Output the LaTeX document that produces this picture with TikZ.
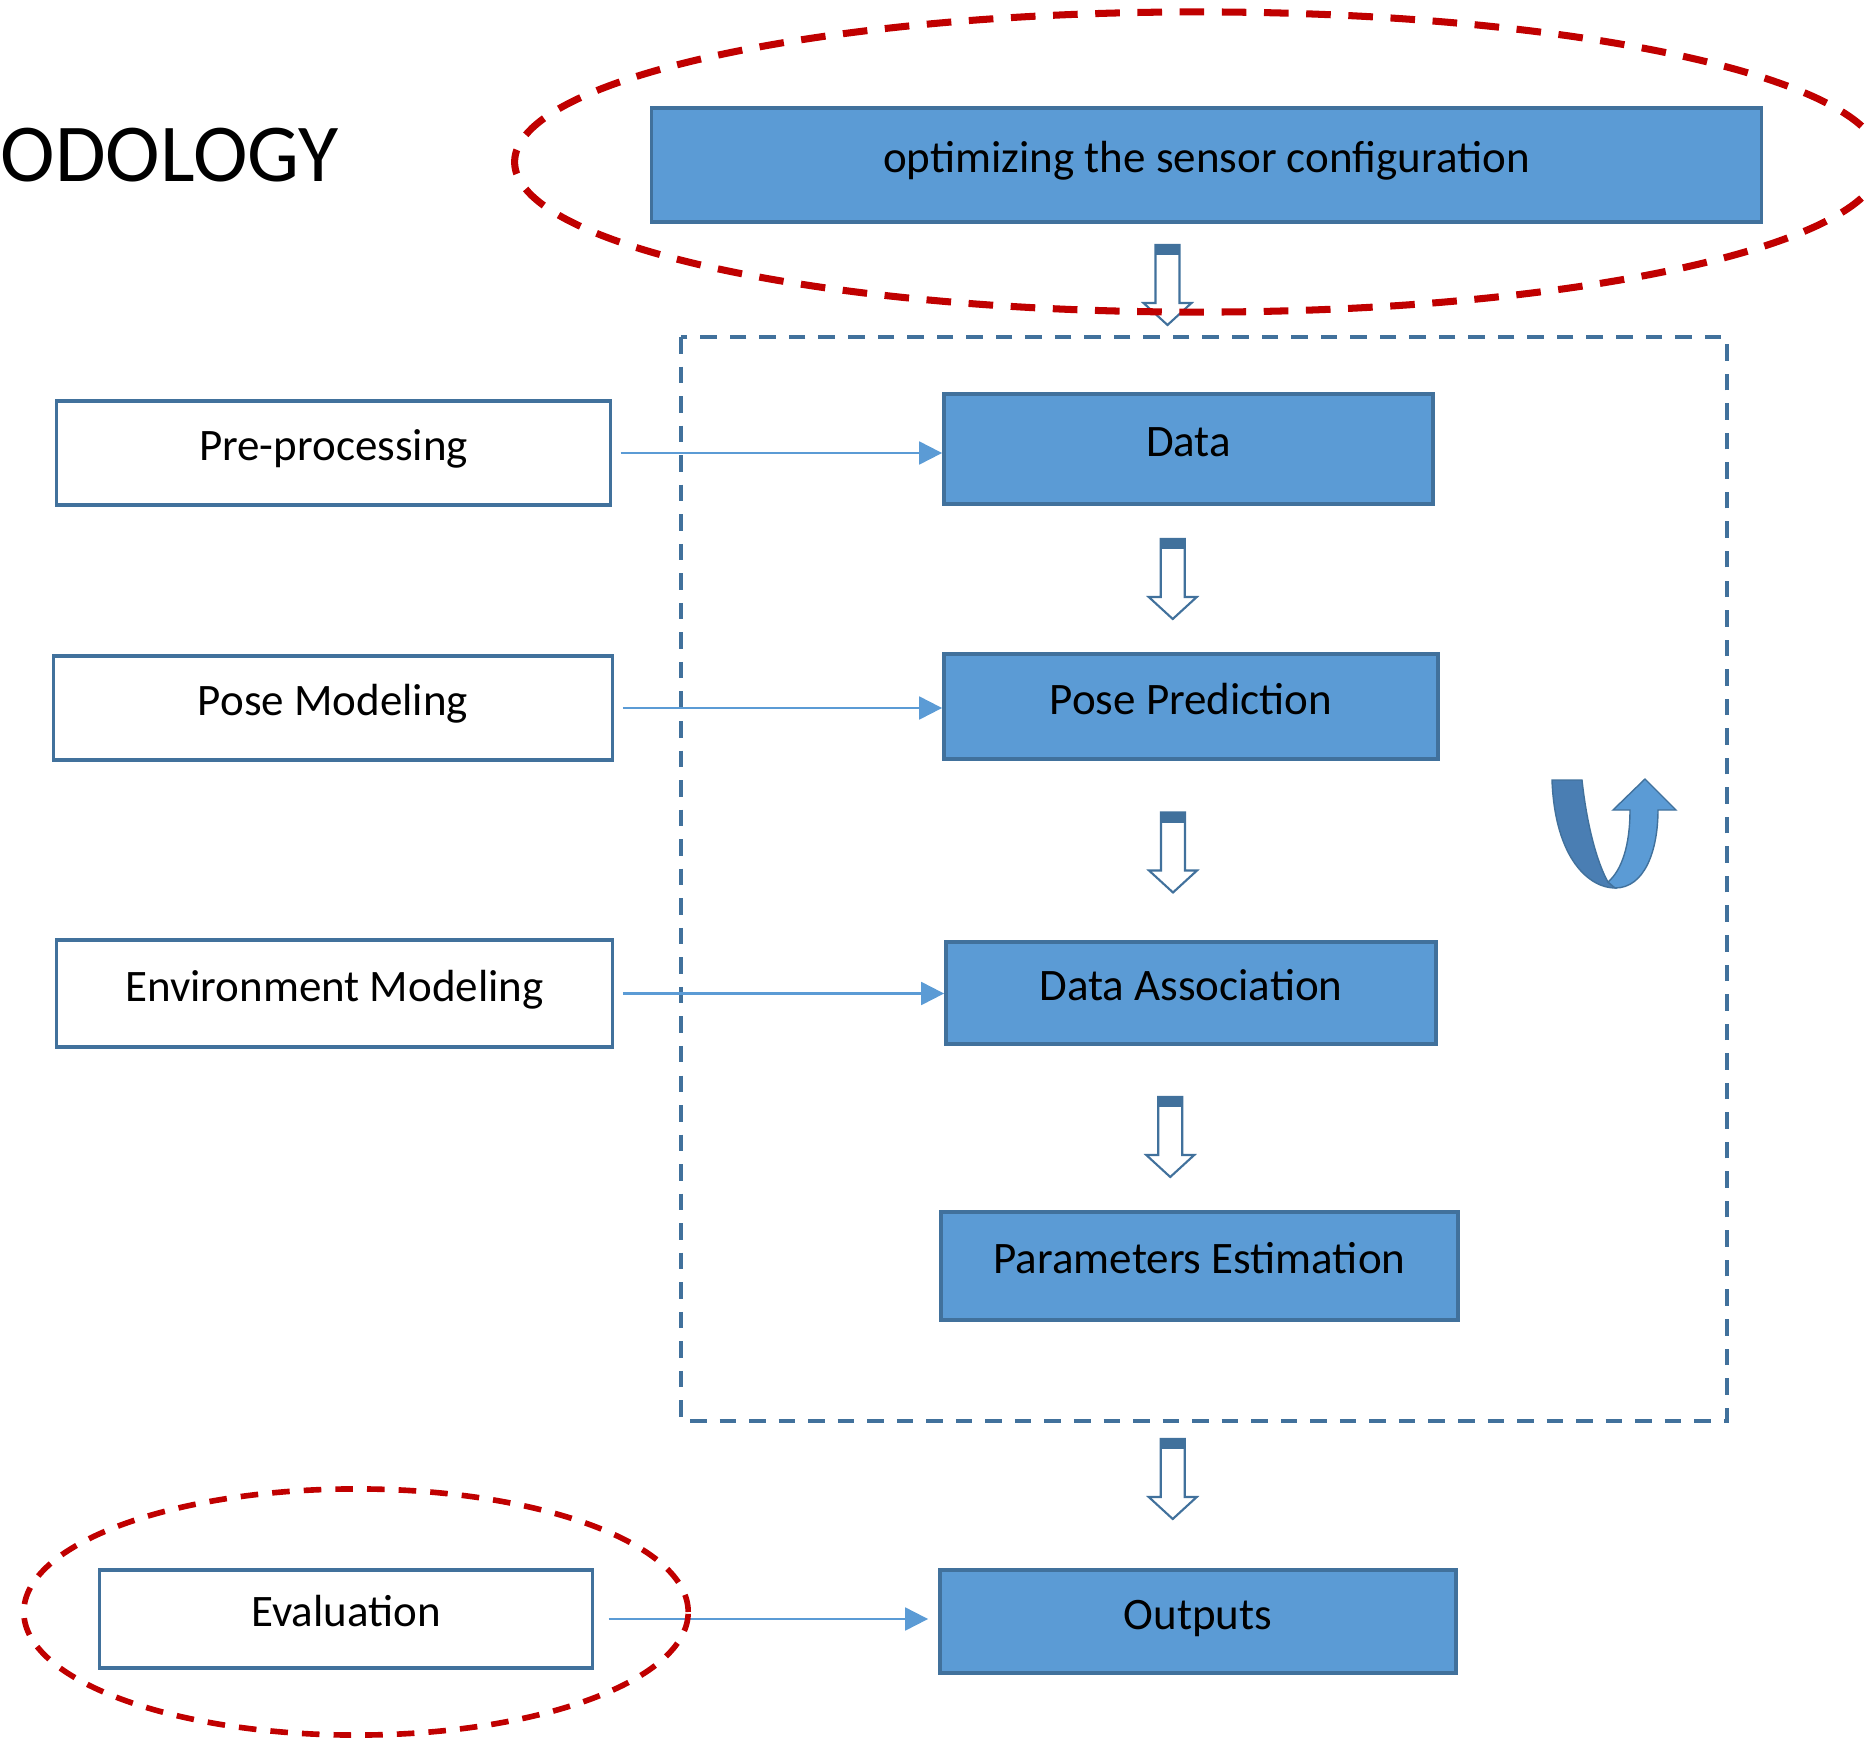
\documentclass[tikz,border=0pt]{standalone}
\usepackage{fontspec}
\setmainfont{Carlito}
\usetikzlibrary{calc,positioning,arrows.meta}
\definecolor{boxblue}{HTML}{5B9BD5}
\definecolor{edgeblue}{HTML}{41719C}
\definecolor{bendblue}{HTML}{4A7EB3}
\definecolor{ringred}{HTML}{C00000}
\tikzset{
stage/.style={draw=edgeblue, line width=1pt, fill=boxblue, inner sep=0pt, text height=0.66em, text depth=0.22em, font=\fontsize{12.8}{15}\selectfont}, % blue process boxes
model/.style={draw=edgeblue, line width=0.9pt, fill=white, inner sep=0pt, text height=0.66em, text depth=0.22em, font=\fontsize{12.8}{15}\selectfont}, % white input boxes
feed/.style={draw=boxblue, line width=0.6pt, -{Triangle[length=6.5pt,width=6.5pt]}, shorten <=0.09cm},
ring/.style={draw=ringred, line width=2pt, dash pattern=on 7pt off 5pt},
loopbox/.style={draw=edgeblue, line width=1.1pt, dash pattern=on 4.7pt off 3.7pt},
hollowarrow/.pic={
  \draw[edgeblue, line width=0.6pt, fill=white] (-12,-40) -- (12,-40) -- (12,18) -- (24,18) -- (0,40) -- (-24,18) -- (-12,18) -- cycle;
  \fill[edgeblue] (-12,-40) rectangle (12,-30);
}
}
\begin{document}
\begin{tikzpicture}[x=0.01cm, y=-0.01cm]
\useasboundingbox (0,0) rectangle (1868,1742);
\node[anchor=west, inner sep=0pt, font=\fontsize{23.4}{28}\selectfont] (title) at (0,155) {ODOLOGY};

% process column
\node[stage, minimum width=11.09cm, minimum height=1.14cm] (sensor) at (1206.5,165) {optimizing the sensor configuration};
\node[stage, minimum width=4.89cm, minimum height=1.10cm] (data) at (1188.5,449) {Data};
\node[stage, minimum width=4.94cm, minimum height=1.05cm] (posepred) at (1191,706.5) {Pose Prediction};
\node[stage, minimum width=4.90cm, minimum height=1.02cm] (assoc) at (1191,993) {Data Association};
\node[stage, minimum width=5.17cm, minimum height=1.08cm] (params) at (1199.5,1266) {Parameters Estimation};
\node[stage, minimum width=5.16cm, minimum height=1.03cm] (outputs) at (1198,1621.5) {Outputs};

% inputs on the left
\node[model, minimum width=5.53cm, minimum height=1.04cm] (pre) at (333.5,453) {Pre-processing};
\node[model, minimum width=5.58cm, minimum height=1.04cm] (posemod) at (333,708) {Pose Modeling};
\node[model, minimum width=5.55cm, minimum height=1.07cm] (envmod) at (334.5,993.5) {Environment Modeling};
\node[model, minimum width=4.92cm, minimum height=0.98cm] (eval) at (346,1619) {Evaluation};

\draw[loopbox] (681,337) rectangle (1727,1421);

\draw[feed] (pre.east) -- (pre.east -| data.west);
\draw[feed] (posemod.east) -- (posemod.east -| posepred.west);
\draw[feed] (envmod.east) -- (envmod.east -| assoc.west);
\draw[feed, shorten <=0.15cm, shorten >=0.1cm] (eval.east) -- (eval.east -| outputs.west);

\pic at ($(sensor.south)!0.5!(data.north)+(-30,-23)$) {hollowarrow};
\pic at ($(data.south)!0.5!(posepred.north)+(-17,0)$) {hollowarrow};
\pic at ($(posepred.south)!0.5!(assoc.north)+(-18,2)$) {hollowarrow};
\pic at ($(assoc.south)!0.5!(params.north)+(-25,9)$) {hollowarrow};
\pic at ($(params.south)!0.5!(outputs.north)+(-26,34)$) {hollowarrow};

% loop arrow
\filldraw[fill=bendblue, draw=edgeblue, line width=0.4pt] (1552,780) -- (1582,780)
  .. controls (1588,835) and (1600,868) .. (1608,882) -- (1615,888)
  .. controls (1590,888) and (1555,860) .. (1552,780) -- cycle;
\filldraw[fill=boxblue, draw=edgeblue, line width=0.4pt] (1608,882)
  .. controls (1622,870) and (1630,845) .. (1630,810) -- (1613,810) -- (1645,779) -- (1676,810) -- (1658,810)
  .. controls (1658,850) and (1645,888) .. (1615,888) -- cycle;

% highlight rings
\draw[ring] (1198,162) ellipse [x radius=6.83cm, y radius=1.5cm];
\draw[ring, line width=1.6pt, dash pattern=on 5pt off 4pt] (356,1612) ellipse [x radius=3.32cm, y radius=1.23cm];
\end{tikzpicture}
\end{document}
